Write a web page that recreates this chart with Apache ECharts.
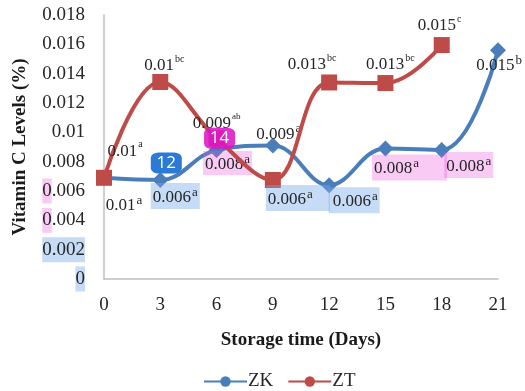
<!DOCTYPE html>
<html>
<head>
<meta charset="utf-8">
<script src="https://cdn.jsdelivr.net/npm/echarts@6/dist/echarts.min.js"></script>
<style>
html,body{margin:0;padding:0;background:#fff;}
#chart{width:525px;height:391px;}
</style>
</head>
<body>
<div id="chart"></div>
<script>
// ---- data ----
var categories = ['0', '3', '6', '9', '12', '15', '18', '21'];
var zkValues = [0.0069, 0.00675, 0.0088, 0.0091, 0.0064, 0.0089, 0.0088, 0.0156];
var ztValues = [0.0069, 0.01343, 0.0096, 0.00675, 0.0134, 0.01336, 0.01595];
var zkLabelText = ['0.01', '0.006', '0.008', '0.009', '0.006', '0.008', '0.008', '0.015'];
var zkLabelSup = ['a', 'a', 'a', 'a', 'a', 'a', 'a', 'b'];
var ztLabelText = ['0.01', '0.01', '0.009', '0.006', '0.013', '0.013', '0.015'];
var ztLabelSup = ['a', 'bc', 'ab', 'a', 'bc', 'bc', 'c'];
var yTickLabels = ['0', '0.002', '0.004', '0.006', '0.008', '0.01', '0.012', '0.014', '0.016', '0.018'];
var seriesNames = ['ZK', 'ZT'];
var badgeTexts = ['12', '14'];

// ---- layout / styles (not data) ----
var SERIF = 'Liberation Serif';
var BLUE = '#4a7ebb';
var RED = '#be4b48';
var BLUE_HL = 'rgba(120,170,230,0.42)';
var PINK_HL = 'rgba(235,80,220,0.30)';
// [dx, dy, supSize, background, padding]
var zkLabelLayout = [
  [20, 26, 13, null, 0],
  [15, 16, 13, BLUE_HL, [3, 2, 3, 2]],
  [11, 13, 13, PINK_HL, [2, 2, 2, 2]],
  [6, -13, 13, null, 0],
  [25, 15, 13, BLUE_HL, [3, 2, 3, 4]],
  [24, 19, 13, PINK_HL, [3, 28, 3, 2]],
  [27, 15, 13, PINK_HL, [3, 2, 3, 2]],
  [1, 14, 13, null, 0]
];
var ztLabelLayout = [
  [21, -28, 9, null, 0],
  [4, -18, 9, null, 0],
  [0, -16, 8, null, 0],
  [25, 18, 13, BLUE_HL, [3, 17, 3, 2]],
  [-17, -19, 9, null, 0],
  [5, -20, 9, null, 0],
  [-2, -21, 9, null, 0]
];

function buildData(values, texts, sups, layout) {
  return values.map(function (v, i) {
    var L = layout[i];
    var supKey = L[2] >= 12 ? 'S' : (L[2] >= 9 ? 's' : 't');
    var lab = {
      show: true,
      position: 'inside',
      offset: [L[0], L[1]],
      formatter: '{v|' + texts[i] + '}{' + supKey + '|' + sups[i] + '}',
      rich: {
        v: {fontFamily: SERIF, fontSize: 17, color: '#262626', verticalAlign: 'bottom', lineHeight: 20},
        S: {fontFamily: SERIF, fontSize: 13, color: '#262626', verticalAlign: 'top', lineHeight: 13, padding: [0, 0, 0, 1]},
        s: {fontFamily: SERIF, fontSize: 10, color: '#262626', verticalAlign: 'top', lineHeight: 12, padding: [0, 0, 0, 1]},
        t: {fontFamily: SERIF, fontSize: 9, color: '#262626', verticalAlign: 'top', lineHeight: 12, padding: [0, 0, 0, 1]}
      }
    };
    if (L[3]) {
      lab.backgroundColor = L[3];
      lab.padding = L[4];
    }
    return {value: v, label: lab};
  });
}

function badge(text, coord, color, offset) {
  return {
    coord: coord,
    symbol: 'roundRect',
    symbolSize: [31, 21],
    symbolOffset: offset,
    itemStyle: {color: color},
    label: {show: true, formatter: text, color: '#fff', fontFamily: 'Open Sans', fontSize: 17}
  };
}

// legend drawn from its own entries so that its markers are circles as in the reference
var legendKeyNames = seriesNames;
var dataNames = seriesNames.map(function (n) { return n + ' values'; });

var chart = echarts.init(document.getElementById('chart'));
chart.setOption({
  animation: false,
  backgroundColor: '#fff',
  grid: {left: 104, right: 27, top: 15, bottom: 112, containLabel: false},
  legend: {
    data: legendKeyNames,
    left: 198,
    top: 367,
    itemWidth: 43,
    itemHeight: 13,
    itemGap: 14,
    textStyle: {fontFamily: SERIF, fontSize: 19, color: '#262626', padding: [0, 0, 0, -4]}
  },
  xAxis: {
    type: 'category',
    data: categories,
    boundaryGap: false,
    name: 'Storage time (Days)',
    nameLocation: 'middle',
    nameGap: 52,
    nameTextStyle: {fontFamily: SERIF, fontSize: 19, fontWeight: 'bold', color: '#1a1a1a'},
    axisLine: {lineStyle: {color: '#bfbfbf', width: 1.5}},
    axisTick: {show: false},
    axisLabel: {fontFamily: SERIF, fontSize: 19, color: '#262626', margin: 17},
    splitLine: {show: false}
  },
  yAxis: {
    type: 'value',
    min: 0,
    max: 0.018,
    interval: 0.002,
    name: 'Vitamin C Levels (%)',
    nameLocation: 'middle',
    nameGap: 74,
    nameTextStyle: {fontFamily: SERIF, fontSize: 19, fontWeight: 'bold', color: '#1a1a1a'},
    axisLine: {show: true, lineStyle: {color: '#bfbfbf', width: 1.5}},
    axisTick: {show: false},
    splitLine: {show: false},
    axisLabel: {
      margin: 19,
      fontFamily: SERIF,
      fontSize: 19,
      color: '#262626',
      formatter: function (value, index) {
        var t = yTickLabels[index];
        if (t === '0.006' || t === '0.004') return '{pk|0}{n|' + t.slice(1) + '}';
        if (t === '0.002' || t === '0') return '{bl|' + t + '}';
        return '{n|' + t + '}';
      },
      rich: {
        n: {fontFamily: SERIF, fontSize: 19, color: '#262626'},
        pk: {fontFamily: SERIF, fontSize: 19, color: '#262626', backgroundColor: PINK_HL, padding: [3, 0, 3, 0]},
        bl: {fontFamily: SERIF, fontSize: 19, color: '#262626', backgroundColor: BLUE_HL, padding: [3, 0, 3, 0]}
      }
    }
  },
  series: [
    {
      name: dataNames[0],
      type: 'line',
      smooth: 0.4,
      symbol: 'diamond',
      symbolSize: 16,
      color: BLUE,
      lineStyle: {width: 4, color: BLUE},
      itemStyle: {color: BLUE},
      data: buildData(zkValues, zkLabelText, zkLabelSup, zkLabelLayout),
      markPoint: {
        z: 10,
        data: [badge(badgeTexts[0], [1, zkValues[1]], '#2b7bd6', [6, -17])]
      },
      z: 2
    },
    {
      name: dataNames[1],
      type: 'line',
      smooth: 0.4,
      symbol: 'rect',
      symbolSize: 16,
      color: RED,
      lineStyle: {width: 4, color: RED},
      itemStyle: {color: RED},
      data: buildData(ztValues, ztLabelText, ztLabelSup, ztLabelLayout),
      markPoint: {
        z: 10,
        data: [badge(badgeTexts[1], [2, ztValues[2]], 'rgba(222,20,200,0.88)', [3, 0])]
      },
      z: 3
    },
    // legend-only entries
    {name: legendKeyNames[0], type: 'line', data: [], symbol: 'circle', color: BLUE, lineStyle: {width: 3, color: BLUE}, itemStyle: {color: BLUE}},
    {name: legendKeyNames[1], type: 'line', data: [], symbol: 'circle', color: RED, lineStyle: {width: 3, color: RED}, itemStyle: {color: RED}}
  ]
});
</script>
</body>
</html>
